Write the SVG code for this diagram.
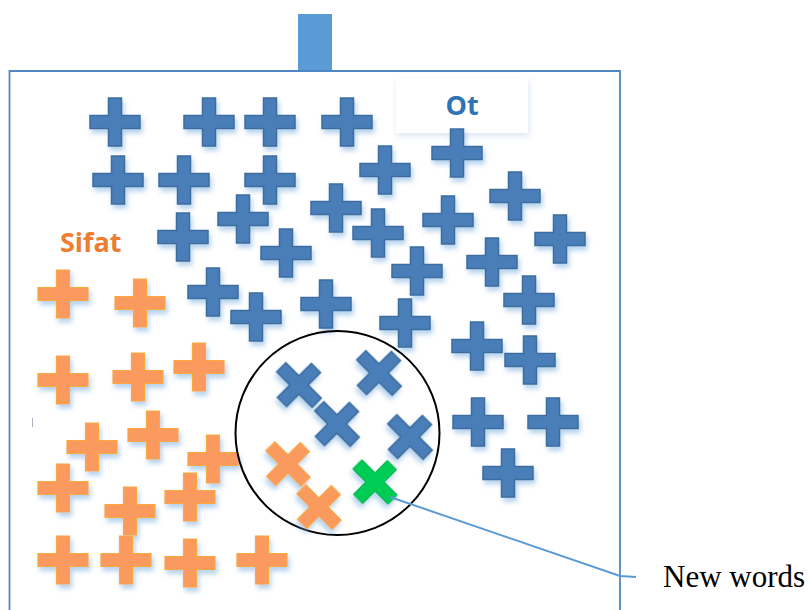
<svg xmlns="http://www.w3.org/2000/svg" xmlns:xlink="http://www.w3.org/1999/xlink" width="810" height="610" viewBox="0 0 810 610">
<defs>
<style>
.b{fill:#4A7EB8;stroke:#3E6C9E;stroke-width:1.5;filter:url(#sh)}
.o{fill:#FA9A5E;stroke:#F8AA3C;stroke-width:1.2;filter:url(#sh)}
.g{fill:#00CC55;stroke:#00B84C;stroke-width:1;filter:url(#sh)}
.lbl{font-family:"Open Sans","Liberation Sans",sans-serif;font-weight:bold;font-size:27px}
.conn{stroke:#5B9BD5;stroke-width:2;fill:none}
</style>
<filter id="sh" x="-30%" y="-30%" width="170%" height="170%">
<feDropShadow dx="2" dy="4" stdDeviation="2.5" flood-color="#5B9BD5" flood-opacity="0.45"/>
</filter>
<filter id="sh2" x="-10%" y="-20%" width="120%" height="150%">
<feDropShadow dx="1" dy="3" stdDeviation="3" flood-color="#9DB9DD" flood-opacity="0.35"/>
</filter>
<path id="p" d="M-6.5,-24h13v17.5h18.5v13h-18.5v17.5h-13v-17.5h-18.5v-13h18.5z"/>
</defs>
<rect width="810" height="610" fill="#fff"/>
<rect id="topbar" x="298" y="14" width="34" height="57" fill="#5B9BD5"/>
<path id="frame" d="M9.5,612V71H620V612" fill="none" stroke="#4F87C4" stroke-width="1.8"/>
<line x1="32.5" y1="418" x2="32.5" y2="427" stroke="#AAB4C0" stroke-width="1"/>
<g id="ot">
<rect x="396" y="78" width="132" height="55" fill="#fff" filter="url(#sh2)"/>
<text class="lbl" x="462" y="115" text-anchor="middle" fill="#2F73B5">Ot</text>
</g>
<g id="sifat"><text class="lbl" x="60" y="252" fill="#ED7D31">Sifat</text></g>
<g id="blue">
<g id="b1"><use href="#p" class="b" x="115" y="122"/></g>
<g id="b2"><use href="#p" class="b" x="209" y="122"/></g>
<g id="b3"><use href="#p" class="b" x="270" y="122"/></g>
<g id="b4"><use href="#p" class="b" x="347" y="122"/></g>
<g id="b5"><use href="#p" class="b" x="118" y="180"/></g>
<g id="b6"><use href="#p" class="b" x="184" y="180"/></g>
<g id="b7"><use href="#p" class="b" x="270" y="180"/></g>
<g id="b8"><use href="#p" class="b" x="385" y="170"/></g>
<g id="b9"><use href="#p" class="b" x="457" y="153"/></g>
<g id="b10"><use href="#p" class="b" x="243" y="219"/></g>
<g id="b11"><use href="#p" class="b" x="336" y="208"/></g>
<g id="b12"><use href="#p" class="b" x="515" y="196"/></g>
<g id="b13"><use href="#p" class="b" x="183" y="237"/></g>
<g id="b14"><use href="#p" class="b" x="286" y="253"/></g>
<g id="b15"><use href="#p" class="b" x="378" y="233"/></g>
<g id="b16"><use href="#p" class="b" x="448" y="220"/></g>
<g id="b17"><use href="#p" class="b" x="560" y="239"/></g>
<g id="b18"><use href="#p" class="b" x="213" y="292"/></g>
<g id="b19"><use href="#p" class="b" x="326" y="304"/></g>
<g id="b20"><use href="#p" class="b" x="417" y="271"/></g>
<g id="b21"><use href="#p" class="b" x="492" y="262"/></g>
<g id="b22"><use href="#p" class="b" x="256" y="317"/></g>
<g id="b23"><use href="#p" class="b" x="529" y="300"/></g>
<g id="b24"><use href="#p" class="b" x="405" y="323"/></g>
<g id="b25"><use href="#p" class="b" x="477" y="346"/></g>
<g id="b26"><use href="#p" class="b" x="530" y="360"/></g>
<g id="b27"><use href="#p" class="b" x="478" y="422"/></g>
<g id="b28"><use href="#p" class="b" x="553" y="422"/></g>
<g id="b29"><use href="#p" class="b" x="508" y="473"/></g>
</g>
<g id="orange">
<g id="o1"><use href="#p" class="o" x="63" y="294"/></g>
<g id="o2"><use href="#p" class="o" x="140" y="303"/></g>
<g id="o3"><use href="#p" class="o" x="63" y="380"/></g>
<g id="o4"><use href="#p" class="o" x="138" y="377"/></g>
<g id="o5"><use href="#p" class="o" x="199" y="367"/></g>
<g id="o6"><use href="#p" class="o" x="92" y="447"/></g>
<g id="o7"><use href="#p" class="o" x="153" y="435"/></g>
<g id="o8"><use href="#p" class="o" x="213" y="459"/></g>
<g id="o9"><use href="#p" class="o" x="63" y="488"/></g>
<g id="o10"><use href="#p" class="o" x="130" y="511"/></g>
<g id="o11"><use href="#p" class="o" x="190" y="497"/></g>
<g id="o12"><use href="#p" class="o" x="63" y="560"/></g>
<g id="o13"><use href="#p" class="o" x="126" y="560"/></g>
<g id="o14"><use href="#p" class="o" x="190" y="563"/></g>
<g id="o15"><use href="#p" class="o" x="262" y="560"/></g>
</g>
<g id="cluster">
<circle cx="337.5" cy="433" r="102" fill="none" stroke="#000" stroke-width="2"/>
<g id="x1"><use href="#p" class="b" transform="translate(299,385) rotate(45)"/></g>
<g id="x2"><use href="#p" class="b" transform="translate(379,373) rotate(45)"/></g>
<g id="x3"><use href="#p" class="b" transform="translate(337,424) rotate(45)"/></g>
<g id="x4"><use href="#p" class="b" transform="translate(410,437) rotate(45)"/></g>
<g id="x5"><use href="#p" class="o" transform="translate(288,464) rotate(45)"/></g>
<g id="x6"><use href="#p" class="o" transform="translate(319,507) rotate(45)"/></g>
<g id="xnew"><use href="#p" class="g" transform="translate(375,482) rotate(45)"/></g>
</g>
<g id="connectors">
<polyline class="conn" points="390,497 620,576 636,577"/>
</g>
<g id="newwords"><text x="663" y="587" font-family="'Liberation Serif','Times New Roman',serif" font-size="31" fill="#000">New words</text></g>
</svg>
